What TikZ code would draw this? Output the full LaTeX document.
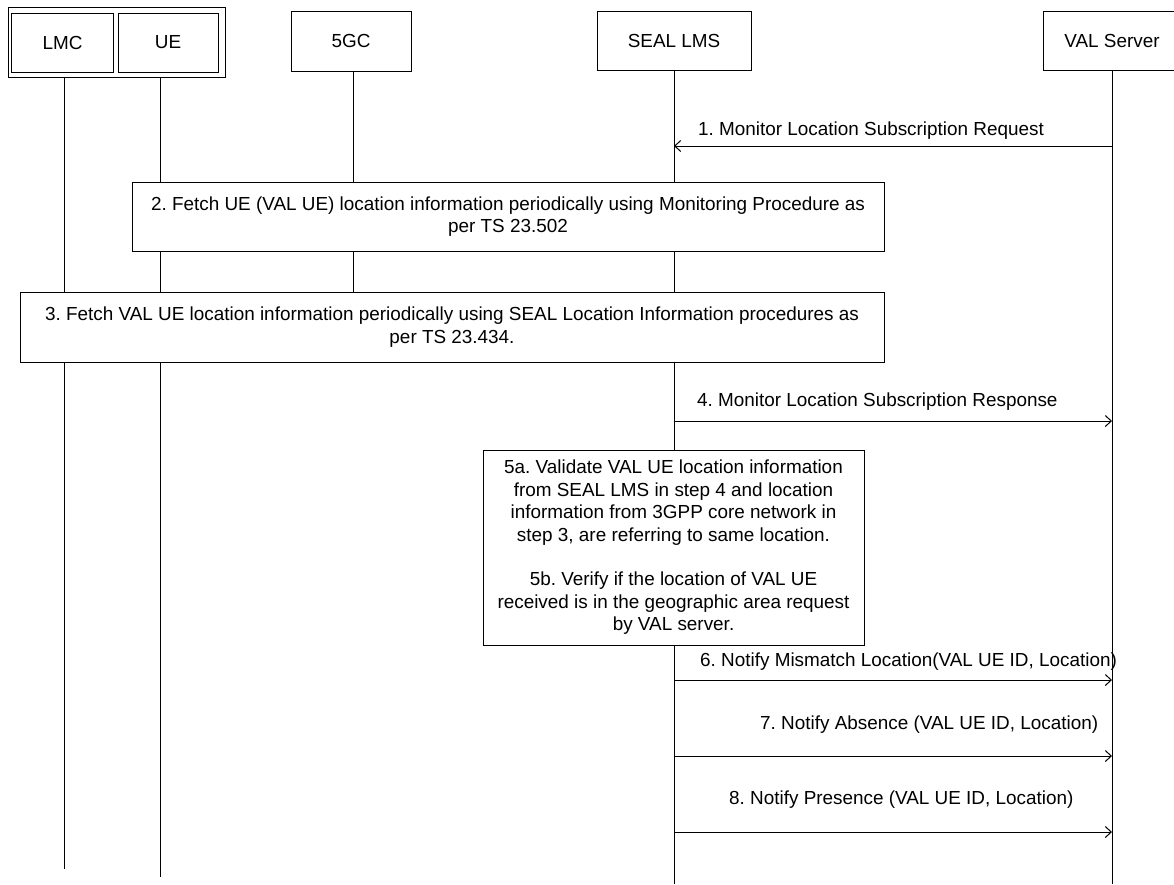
\documentclass[tikz,border=0pt]{standalone}
\usepackage{fontspec}
\setmainfont{Liberation Sans}
\frenchspacing
\usetikzlibrary{arrows.meta}
\tikzset{>={Straight Barb[length=6pt,width=11pt]}}
\tikzset{
  entity/.style={draw,line width=1pt,fill=white,minimum height=59pt,inner sep=0pt},
  stepbox/.style={draw,line width=1pt,fill=white,align=center,inner sep=0pt},
  life/.style={line width=1pt},
  msg/.style={->,line width=1pt},
  msglabel/.style={anchor=west,inner sep=0pt},
}
\newcommand{\lifeline}[3]{\draw[life] (#1,#2) -- (#1,#3);}

\begin{document}
\begin{tikzpicture}[x=1pt,y=-1pt,font=\fontsize{18.9}{22.4}\selectfont]
\useasboundingbox (0,0) rectangle (1174,884);
% lifelines
\lifeline{64}{72}{869}
\lifeline{160}{77}{877}
\lifeline{353}{71}{292}
\lifeline{674}{70}{884}
\lifeline{1112}{70}{884}
% entities
\node[entity,minimum width=217pt,minimum height=70pt] (grp) at (116.5,42) {};
\node[entity,minimum width=102pt] (lmc) at (62.5,42.5) {LMC};
\node[entity,minimum width=100pt] (ue) at (168,42.5) {UE};
\node[entity,minimum width=120pt,minimum height=60pt] (fivegc) at (351,41) {5GC};
\node[entity,minimum width=154pt] (lms) at (674,40.5) {SEAL LMS};
\node[entity,minimum width=138pt] (val) at (1112,40.5) {VAL Server};
% steps
\draw[msg] (val |- 0,146) -- (lms |- 0,146);
\node[msglabel] (l1) at (698,131) {1. Monitor Location Subscription Request};
\node[stepbox,minimum width=752pt,minimum height=69pt] (s2) at (508,216.5)
  {2. Fetch UE (VAL UE) location information periodically using Monitoring Procedure as\\per TS 23.502};
\node[stepbox,minimum width=864pt,minimum height=70pt] (s3) at (452,327)
  {3. Fetch VAL UE location information periodically using SEAL Location Information procedures as\\per TS 23.434.};
\draw[msg] (lms |- 0,421) -- (val |- 0,421);
\node[msglabel] (l4) at (697,402) {4. Monitor Location Subscription Response};
\node[stepbox,minimum width=381pt,minimum height=195pt] (s5) at (673.5,547.5)
  {5a. Validate VAL UE location information\\from SEAL LMS in step 4 and location\\information from 3GPP core network in\\step 3, are referring to same location.\\[22.4pt]
   5b. Verify if the location of VAL UE\\received is in the geographic area request\\by VAL server.};
\draw[msg] (lms |- 0,680) -- (val |- 0,680);
\node[msglabel] (l6) at (700,662) {6. Notify Mismatch Location(VAL UE ID, Location)};
\draw[msg] (lms |- 0,756) -- (val |- 0,756);
\node[msglabel] (l7) at (760,725) {7. Notify Absence (VAL UE ID, Location)};
\draw[msg] (lms |- 0,832) -- (val |- 0,832);
\node[msglabel] (l8) at (729,800) {8. Notify Presence (VAL UE ID, Location)};
\end{tikzpicture}
\end{document}
